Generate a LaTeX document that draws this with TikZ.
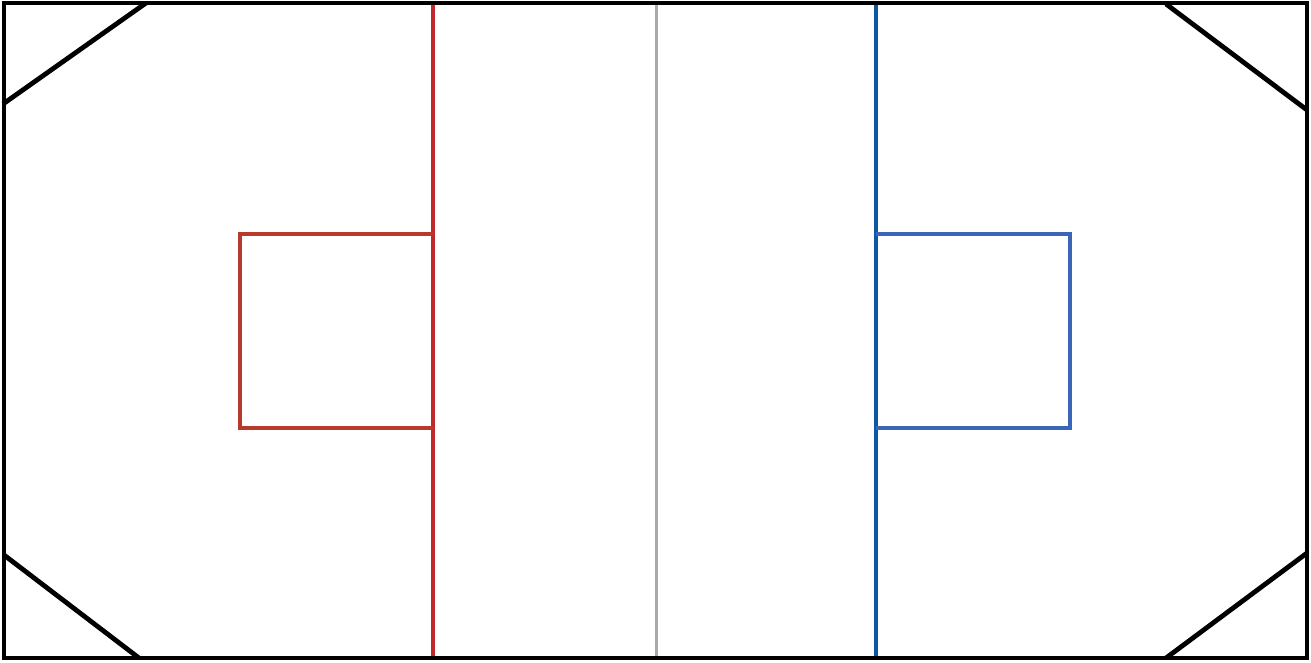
\documentclass[tikz,border=0pt]{standalone}
\definecolor{redline}{HTML}{C0282D}
\definecolor{redbox}{HTML}{B83A2A}
\definecolor{blueline}{HTML}{0B57A4}
\definecolor{bluebox}{HTML}{3A66B8}
\definecolor{midgrey}{HTML}{AAAAAA}
\begin{document}
\begin{tikzpicture}[x=1pt,y=-1pt,
  rink/.style={draw=black,line width=4.8pt},
  corner/.style={draw=black,line width=4.8pt},
  redln/.style={draw=redline,line width=4pt},
  blueln/.style={draw=blueline,line width=4pt},
  redbx/.style={draw=redbox,line width=4pt},
  bluebx/.style={draw=bluebox,line width=4pt},
  midln/.style={draw=midgrey,line width=3pt}]
\useasboundingbox (0,0) rectangle (1311,662);
% center and blue/red lines
\draw[midln] (656,3) -- (656,658);
\draw[redln] (433,3) -- (433,658);
\draw[blueln] (876,3) -- (876,658);
% boxes
\draw[redbx] (433,234) -- (240,234) -- (240,428) -- (433,428);
\draw[bluebx] (876,234) -- (1070,234) -- (1070,428) -- (876,428);
% corners
\draw[corner] (146,3) -- (3,104);
\draw[corner] (1166,4) -- (1307,110);
\draw[corner] (4,555) -- (139,658);
\draw[corner] (1166,658) -- (1307,553);
% outer border
\draw[rink] (4,3) rectangle (1307,658);
\end{tikzpicture}
\end{document}
